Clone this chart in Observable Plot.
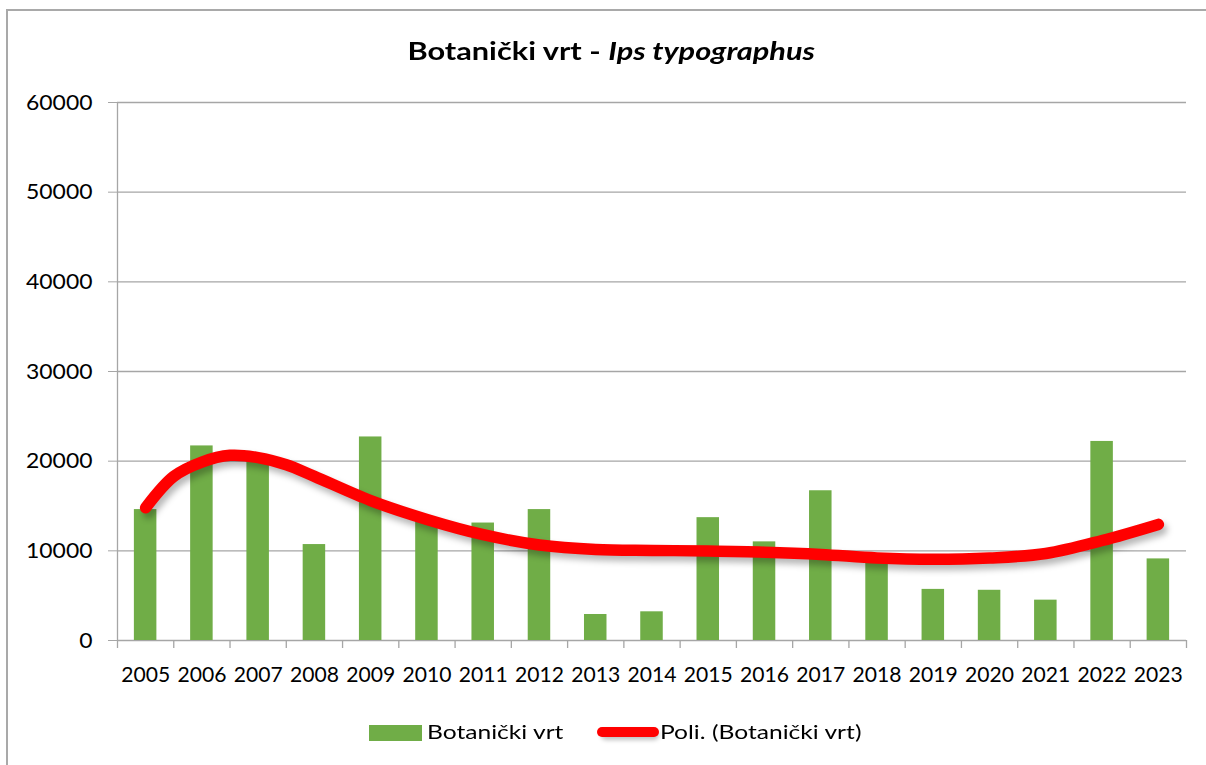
<!DOCTYPE html>
<html>
<head>
<meta charset="utf-8">
<script src="https://cdn.jsdelivr.net/npm/d3@7"></script>
<script src="https://cdn.jsdelivr.net/npm/@observablehq/plot@0.6"></script>
<style>
  html, body { margin: 0; padding: 0; background: #fff; }
  body { width: 1206px; height: 765px; position: relative; overflow: hidden; font-family: Lato, "Open Sans", sans-serif; color: #000; }
  #frame { position: absolute; left: 6px; top: 9px; width: 1400px; height: 900px; border-left: 2px solid #a9a9a9; border-top: 2px solid #a9a9a9; }
  #chart { position: absolute; left: 0; top: 0; }
  #title { position: absolute; left: 0; width: 1222px; top: 37px; text-align: center; font-size: 24px; font-weight: bold; white-space: nowrap; line-height: 28px; }
  #title span { display: inline-block; transform: scaleX(1.28); transform-origin: center; }
  .leg { position: absolute; font-size: 20px; white-space: nowrap; line-height: 22px; }
  .leg span.t { display: inline-block; transform: scaleX(1.23); transform-origin: left center; }
</style>
</head>
<body>
<div id="frame"></div>
<div id="title"><span>Botanički vrt - <i>Ips typographus</i></span></div>
<div id="chart"></div>
<div class="leg" style="left:369px; top:725px; width:53px; height:16px; background:#70AD47;"></div>
<div class="leg" style="left:427px; top:720px;"><span class="t">Botanički vrt</span></div>
<div class="leg" style="left:601px; top:730px; width:58px; height:10px; background:rgba(0,0,0,0.25); border-radius:5px; filter:blur(2px);"></div>
<div class="leg" style="left:597px; top:727px; width:62px; height:10px; background:#FF0000; border-radius:5px;"></div>
<div class="leg" style="left:660px; top:720px;"><span class="t">Poli. (Botanički vrt)</span></div>
<script>
// Data
const years = [2005, 2006, 2007, 2008, 2009, 2010, 2011, 2012, 2013, 2014, 2015, 2016, 2017, 2018, 2019, 2020, 2021, 2022, 2023];
const counts = [14600, 21700, 20300, 10700, 22700, 13300, 13100, 14600, 2900, 3200, 13700, 11000, 16700, 9700, 5700, 5600, 4500, 22200, 9100];
// Polynomial trend line as drawn in the reference
const trendX = [2005, 2005.5, 2006, 2006.5, 2007, 2007.5, 2008, 2009, 2010, 2011, 2012, 2013, 2014, 2015, 2016, 2017, 2018, 2019, 2020, 2021, 2022, 2023];
const trendY = [14800, 18300, 19900, 20650, 20400, 19600, 18300, 15600, 13500, 11800, 10650, 10150, 10050, 9980, 9850, 9600, 9200, 9050, 9200, 9700, 11150, 12950];
const yTicks = [0, 10000, 20000, 30000, 40000, 50000, 60000];

const bars = years.map((y, i) => ({year: y, value: counts[i]}));
const trend = trendX.map((x, i) => ({year: x, value: trendY[i]}));
const boundaries = [...years.map(y => y - 0.5), years[years.length - 1] + 0.5];

const grid = "#a6a6a6";
const chart = Plot.plot({
  width: 1206,
  height: 700,
  marginLeft: 117,
  marginRight: 20,
  marginTop: 102,
  marginBottom: 60,
  style: {fontFamily: "Lato, 'Open Sans', sans-serif", fontSize: "22px", color: "#000", background: "transparent", overflow: "visible"},
  x: {type: "linear", domain: [years[0] - 0.5, years[years.length - 1] + 0.5]},
  y: {domain: [0, 60000]},
  marks: [
    Plot.ruleY(yTicks, {stroke: grid, strokeWidth: 1.3}),
    Plot.ruleX([years[0] - 0.5], {y1: 0, y2: 60000, stroke: grid, strokeWidth: 1.3}),
    Plot.ruleX(boundaries, {y1: 0, y2: 0, insetBottom: -8, stroke: grid, strokeWidth: 1.3}),
    Plot.axisY({ticks: yTicks, tickSize: 9, tickPadding: 16, stroke: grid, fontSize: 22, tickFormat: d3.format("d"), label: null}),
    Plot.axisX({ticks: years, tickSize: 0, tickPadding: 26, fontSize: 22, tickFormat: d => String(d), label: null}),
    Plot.rectY(bars, {x1: d => d.year - 0.2, x2: d => d.year + 0.2, y: "value", fill: "#70AD47"}),
    Plot.line(trend, {x: "year", y: "value", stroke: "#000", strokeOpacity: 0.28, strokeWidth: 12, curve: "catmull-rom", strokeLinecap: "round", dx: 3, dy: 5}),
    Plot.line(trend, {x: "year", y: "value", stroke: "#FF0000", strokeWidth: 11.5, curve: "catmull-rom", strokeLinecap: "round", strokeLinejoin: "round"})
  ]
});
const lines = chart.querySelectorAll('g[aria-label="line"]');
if (lines.length > 1) lines[0].style.filter = "blur(3px)";

// The reference's tick labels are horizontally wide: stretch glyphs with textLength
function widen(sel, perChar) {
  chart.querySelectorAll(sel).forEach(t => {
    const n = t.textContent.length;
    if (!n) return;
    t.setAttribute("textLength", (n * perChar).toFixed(1));
    t.setAttribute("lengthAdjust", "spacingAndGlyphs");
  });
}
widen('g[aria-label="x-axis tick label"] text', 12.25);
widen('g[aria-label="y-axis tick label"] text', 13.3);
document.getElementById("chart").appendChild(chart);
</script>
</body>
</html>
